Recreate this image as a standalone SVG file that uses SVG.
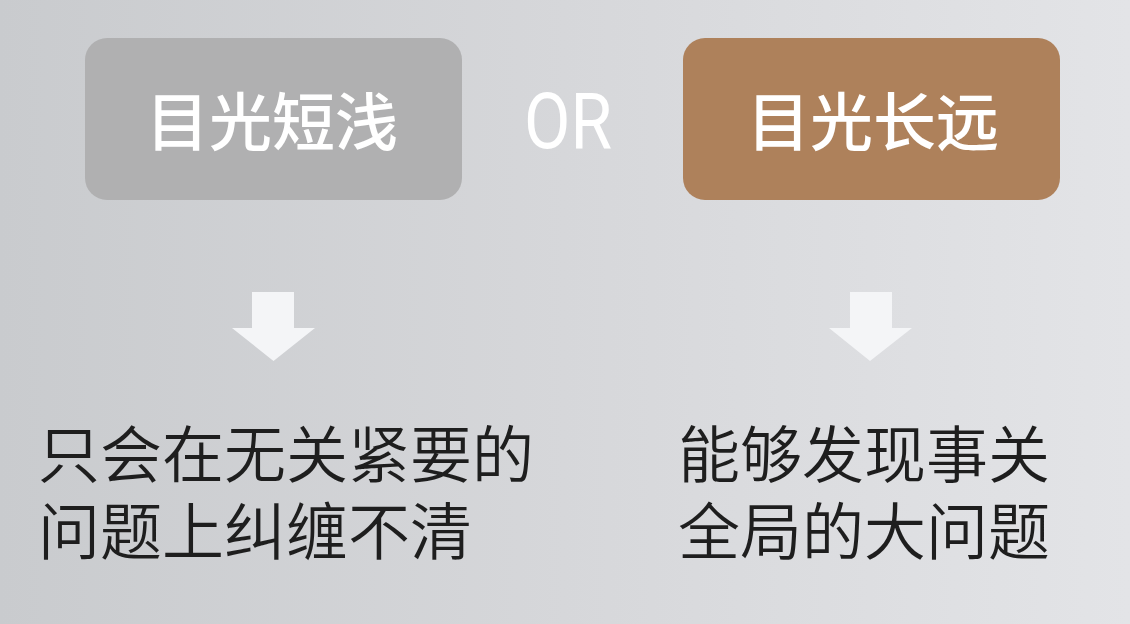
<svg xmlns="http://www.w3.org/2000/svg" width="1130" height="624" viewBox="0 0 1130 624">
<defs>
<linearGradient id="bg" x1="0" y1="0" x2="1" y2="0">
<stop offset="0" stop-color="#c9cbce"/>
<stop offset="0.5" stop-color="#d6d7da"/>
<stop offset="1" stop-color="#e3e4e7"/>
</linearGradient>
<style>
.box-t{font-family:"Noto Sans CJK SC","Noto Sans",sans-serif;font-weight:500;font-size:63px;fill:#ffffff;text-anchor:middle}
.body{font-family:"Noto Sans CJK SC","Noto Sans",sans-serif;font-weight:350;font-size:62px;fill:#1e1e1e}
.arrow{fill:#f4f5f7}
</style>
</defs>
<rect width="1130" height="624" fill="url(#bg)"/>
<g id="node-short">
<rect x="85" y="38" width="377" height="162" rx="22" fill="#b0b0b1"/>
<text class="box-t" x="272" y="145">目光短浅</text>
</g>
<g id="node-or">
<text x="568" y="148" font-family="Roboto,'Liberation Sans',sans-serif" font-weight="400" font-size="77" fill="#ffffff" text-anchor="middle" textLength="88" lengthAdjust="spacingAndGlyphs">OR</text>
</g>
<g id="node-long">
<rect x="683" y="38" width="377" height="162" rx="22" fill="#ae815b"/>
<text class="box-t" x="873" y="145">目光长远</text>
</g>
<g id="connectors">
<path class="arrow" d="M252,292 H294 V328 H315 L273.5,361 L232,328 H252 Z"/>
<path class="arrow" d="M850,292 H892 V328 H912 L870,361 L829,328 H850 Z"/>
</g>
<g id="node-left-result">
<text class="body"><tspan x="38" y="478">只会在无关紧要的</tspan><tspan x="38" y="555">问题上纠缠不清</tspan></text>
</g>
<g id="node-right-result">
<text class="body"><tspan x="678" y="478">能够发现事关</tspan><tspan x="678" y="555">全局的大问题</tspan></text>
</g>
</svg>
